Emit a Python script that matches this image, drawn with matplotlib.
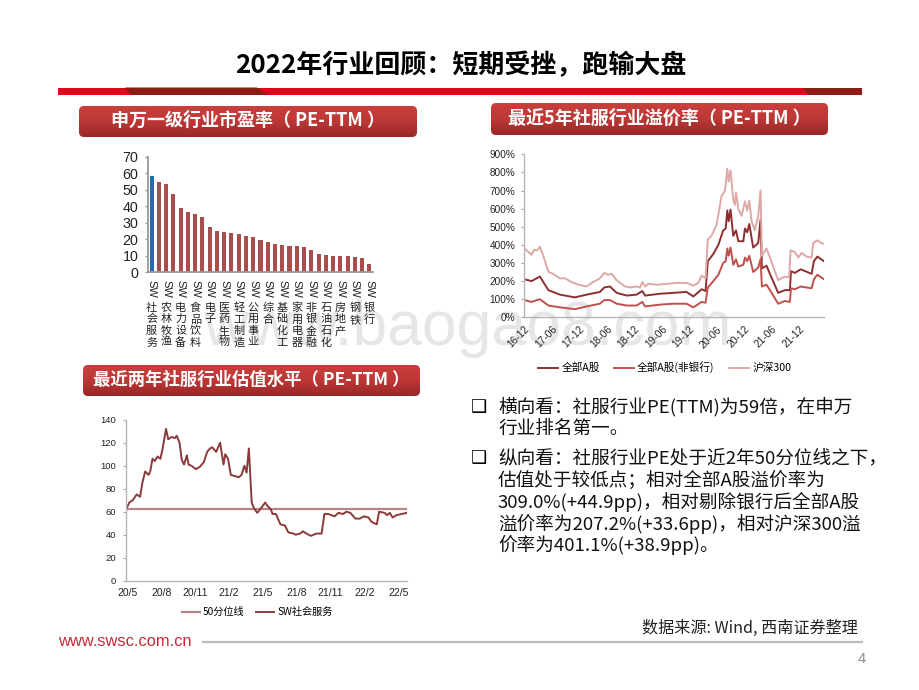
import numpy as np
import matplotlib
matplotlib.use('Agg')
import matplotlib.pyplot as plt
from matplotlib.patches import FancyBboxPatch, Polygon, Rectangle

CJK = ['Noto Sans CJK SC', 'DejaVu Sans']
LAT = ['Liberation Sans', 'Noto Sans CJK SC', 'DejaVu Sans']
plt.rcParams['font.family'] = LAT

# ---------- data ----------
bar_values = [58.5, 55, 53.5, 47.5, 39, 36.5, 35.5, 33.5, 27.5, 25, 24.5, 23.5, 23, 22, 21.5, 19.5,
              18.5, 17, 16.5, 16, 16, 15, 13.5, 11, 10.5, 10, 9.5, 9.5, 9, 8.5, 5]
bar_labels = ['社会服务', '农林牧渔', '电力设备', '食品饮料', '电子', '医药生物', '轻工制造', '公用事业',
              '综合', '基础化工', '家用电器', '非银金融', '石油石化', '房地产', '钢铁', '银行']

prem_x = [0, 1.6, 3.4, 5.25, 7.8, 11.05, 13.6, 16.5, 17.45, 18.7, 20.15, 22.35, 24.5, 25.75, 26.35, 29.6,
          32.5, 35.4, 36.9, 38.7, 39.55, 40.05, 41.25, 42.35, 43.4, 43.95, 44.3, 44.6, 45, 45.6, 46.2, 46.7,
          47.8, 48.15, 48.65, 49.1, 49.95, 51.05, 51.55, 51.85, 52.85, 53.6, 55.4, 56.85, 57.95, 58.2, 59.05,
          60.3, 62.7, 63.2, 63.95, 65.4]
all_a = [210, 200, 225, 150, 125, 110, 125, 140, 165, 170, 135, 120, 125, 145, 120, 130,
         135, 140, 115, 155, 145, 310, 350, 400, 480, 490, 590, 530, 595, 450, 480, 420,
         420, 490, 470, 515, 385, 410, 540, 270, 285, 240, 135, 150, 150, 255, 245,
         265, 240, 310, 335, 310]
all_a_exbank = [95, 85, 100, 65, 55, 45, 60, 75, 95, 95, 75, 65, 65, 85, 60, 70,
                75, 75, 55, 85, 80, 165, 200, 235, 300, 310, 380, 340, 385, 290, 320, 280,
                290, 330, 310, 340, 250, 275, 320, 170, 180, 150, 75, 90, 85, 160, 155,
                170, 160, 210, 235, 210]
hs300_x = [0, .9, 1.6, 2.1, 2.85, 3.4, 4.15, 4.75, 5.3, 6.3, 7.8, 8.9, 10.3, 11.8, 13.6, 14.7, 16.5, 17.45,
           18.3, 19.05, 20.15, 22, 23.05, 24.5, 25.25, 25.75, 26.35, 27.05, 28.9, 31.05, 33.25, 35.4, 36.9,
           37.95, 38.7, 39.55, 40.05, 40.85, 41.95, 43.05, 43.8, 44.3, 44.6, 45, 45.6, 45.95, 46.2, 46.7, 47.4,
           48.15, 48.65, 49.1, 49.6, 50.3, 51.05, 51.55, 51.85, 52.85, 53.6, 54.3, 55.4, 56.85, 57.8, 58.1,
           59.05, 59.8, 60.5, 61.6, 62.7, 63.05, 63.95, 64.85, 65.4]
hs300 = [380, 360, 345, 372, 370, 390, 340, 290, 250, 240, 215, 215, 195, 180, 170, 190, 215, 245,
         235, 240, 205, 170, 165, 170, 165, 195, 170, 185, 180, 185, 190, 190, 175,
         190, 230, 215, 430, 450, 510, 670, 700, 820, 750, 810, 650, 620, 690, 600, 560,
         640, 590, 645, 530, 480, 560, 700, 340, 380, 330, 280, 205, 225, 220, 370,
         360, 330, 355, 335, 330, 410, 425, 410, 405]
prem_ticks = ['16-12', '17-06', '17-12', '18-06', '18-12', '19-06', '19-12', '20-06', '20-12', '21-06', '21-12']

val_x = [0, .3, .6, .95, 1.25, 1.45, 1.7, 2, 2.15, 2.35, 2.55, 2.8, 3.05, 3.25, 3.55, 3.75, 4.05, 4.35, 4.5,
         4.75, 4.95, 5.15, 5.4, 5.55, 5.8, 6.2, 6.55, 6.9, 7.2, 7.45, 7.65, 8, 8.35, 8.65, 8.8, 9.05, 9.3, 9.65,
         10, 10.25, 10.5, 10.7, 10.9, 11.15, 11.35, 11.65, 12.05, 12.35, 12.55, 12.85, 13, 13.3, 13.7, 14.1,
         14.4, 14.85, 15.05, 15.45, 15.7, 16, 16.4, 16.9, 17.35, 17.6, 17.95, 18.5, 18.85, 19.25, 19.55, 19.9,
         20.35, 20.75, 21.1, 21.5, 21.8, 22.25, 22.45, 22.95, 23.15, 23.4, 23.65, 24, 24.45, 24.9]
val_pe = [62, 68, 70, 75, 73, 85, 95, 92, 95, 106, 104, 108, 106, 115, 132, 123, 125, 124, 126,
          120, 105, 101, 109, 101, 100, 97, 99, 103, 112, 115, 116, 112, 120, 101, 110, 106, 92, 91,
          90, 92, 100, 94, 115, 68, 63, 59, 64, 68, 65, 62, 58, 58, 49, 48,
          42, 41, 40, 41, 43, 41, 39, 41, 41, 58, 58, 56, 59, 58, 60, 59,
          54, 54, 56, 55, 51, 49, 60, 59, 57, 59, 55, 57, 58, 59]
val_median = 62.5
val_ticks = ['20/5', '20/8', '20/11', '21/2', '21/5', '21/8', '21/11', '22/2', '22/5']

# full-width punctuation
COLON, COMMA, SEMI, LP, RP, STOP = '\uff1a', '\uff0c', '\uff1b', '\uff08', '\uff09', '\u3002'
PE_TAG = f'{LP} PE-TTM {RP}'

W, H = 920, 690
fig = plt.figure(figsize=(W / 100, H / 100), dpi=100, facecolor='white')


def axes_px(x0, y0, x1, y1):
    """Axes from pixel box (top-left origin)."""
    a = fig.add_axes([x0 / W, 1 - y1 / H, (x1 - x0) / W, (y1 - y0) / H])
    a.patch.set_alpha(0)
    return a


# ---------- slide furniture ----------
bg = fig.add_axes([0, 0, 1, 1], zorder=-5)
bg.set_axis_off()

bg.text(203, 345, 'www.baogao8.com', fontsize=45, color='#E6E6E6', family=LAT, ha='left', va='baseline')
bg.text(461, 66, f'2022年行业回顾{COLON}短期受挫{COMMA}跑输大盘', fontsize=18.7, fontweight='bold', color='black',
        family=CJK, ha='center', va='center')

bg.add_patch(Rectangle((58, 87.5), 804, 7.5, fc='#E2051B', ec='none'))
bg.add_patch(Polygon([(125, 87.5), (257, 87.5), (268, 95), (132, 95)], fc='#8E1A14', ec='none'))
bg.add_patch(Polygon([(803, 87.5), (862, 87.5), (862, 95), (809, 95)], fc='#8E1A14', ec='none'))

grad = np.linspace(0, 1, 64)[:, None]
cmap = matplotlib.colors.LinearSegmentedColormap.from_list('b', ['#C93F3C', '#BC3836', '#992727'])
buttons = [((79, 106, 417, 137), '申万一级行业市盈率' + PE_TAG, 13),
           ((491, 103, 828, 135), '最近5年社服行业溢价率' + PE_TAG, 13),
           ((83, 365, 420, 396), '最近两年社服行业估值水平' + PE_TAG, 12.5)]
for (x0, y0, x1, y1), label, fs in buttons:
    bg.add_patch(FancyBboxPatch((x0 + 3, y0 + 5), x1 - x0 - 6, y1 - y0 - 6, boxstyle='round,pad=0,rounding_size=4',
                                fc='#B5B5B5', ec='none', alpha=.7))
    box = FancyBboxPatch((x0 + 2, y0 + 2), x1 - x0 - 4, y1 - y0 - 4, boxstyle='round,pad=2,rounding_size=5',
                         fc='none', ec='none')
    bg.add_patch(box)
    im = bg.imshow(grad, cmap=cmap, extent=(x0, x1, y1, y0), aspect='auto', zorder=2)
    im.set_clip_path(box)
    bg.text((x0 + x1) / 2, (y0 + y1) / 2 - 1, label, color='white', fontsize=fs, fontweight='bold',
            family=CJK, ha='center', va='center', zorder=3)

bullets = [(407, '❑'), (458, '❑')]
for y, b in bullets:
    bg.text(471, y, b, fontsize=13, fontweight='bold', family=['DejaVu Sans'], ha='left', va='center', color='black')
body_lines = [(407, f'横向看{COLON}社服行业PE(TTM)为59倍{COMMA}在申万', 13.4),
              (429, f'行业排名第一{STOP}', 13.4),
              (458, f'纵向看{COLON}社服行业PE处于近2年50分位线之下{COMMA}', 13.4),
              (480, f'估值处于较低点{SEMI}相对全部A股溢价率为', 13.4),
              (502, f'309.0%(+44.9pp){COMMA}相对剔除银行后全部A股', 13.4),
              (524, f'溢价率为207.2%(+33.6pp){COMMA}相对沪深300溢', 13.4),
              (545, f'价率为401.1%(+38.9pp){STOP}', 13.4)]
for y, s, fs in body_lines:
    bg.text(498, y, s, fontsize=fs, family=CJK, ha='left', va='center', color='#111111')

bg.text(858, 628, '数据来源: Wind, 西南证券整理', fontsize=11.6, family=CJK, ha='right', va='center', color='#222222')
bg.text(58, 642, 'www.swsc.com.cn', fontsize=11.9, family=LAT, ha='left', va='center', color='#C42B36')
bg.plot([203, 862], [642, 642], color='#BDBDBD', lw=1.6)
bg.text(866, 659, '4', fontsize=10.5, family=LAT, ha='right', va='center', color='#8C8C8C')
bg.set_xlim(0, W)
bg.set_ylim(H, 0)

# ---------- bar chart ----------
ax1 = axes_px(148, 157, 373, 272)
colors = ['#1F6FAE'] + ['#A94D4D'] * (len(bar_values) - 1)
ax1.bar(range(len(bar_values)), bar_values, width=.56, color=colors)
ax1.set_xlim(-.5, len(bar_values) - .5)
ax1.set_ylim(0, 70)
ax1.set_yticks(range(0, 71, 10))
ax1.set_xticks([])
ax1.tick_params(axis='y', length=2.5, width=1, color='#999999', labelsize=10.3, labelcolor='#222222', pad=4.5)
for s in ('top', 'right'):
    ax1.spines[s].set_visible(False)
for s in ('left', 'bottom'):
    ax1.spines[s].set_color('#9A9A9A')
    ax1.spines[s].set_linewidth(1.3)
for i, label in enumerate(bar_labels):
    ax1.annotate('SW', xy=(i * 2, 0), xycoords=('data', 'axes fraction'), xytext=(0, -6),
                 textcoords='offset points', rotation=-90, ha='center', va='top', fontsize=8,
                 family=LAT, color='#222222')
    ax1.annotate('\n'.join(label), xy=(i * 2, 0), xycoords=('data', 'axes fraction'), xytext=(0, -22),
                 textcoords='offset points', ha='center', va='top', fontsize=8, family=CJK,
                 color='#222222', linespacing=1.2)

# ---------- premium chart ----------
ax2 = axes_px(524.3, 154.3, 824, 317.3)
l1, = ax2.plot(prem_x, all_a, color='#8E2F2F', lw=1.4, label='全部A股')
l2, = ax2.plot(prem_x, all_a_exbank, color='#C0504D', lw=1.4, label='全部A股(非银行)')
l3, = ax2.plot(hs300_x, hs300, color='#DDA8A6', lw=1.4, label='沪深300')
ax2.set_xlim(0, 65.4)
ax2.set_ylim(0, 900)
ax2.set_yticks(range(0, 901, 100))
ax2.set_yticklabels([f'{v}%' for v in range(0, 901, 100)])
ax2.set_xticks(range(0, 61, 6))
ax2.set_xticklabels(prem_ticks, rotation=45, ha='right', rotation_mode='anchor')
ax2.tick_params(axis='y', length=2, width=.8, color='#AAAAAA', labelsize=7.2, labelcolor='#222222', pad=4.5)
ax2.tick_params(axis='x', length=0, labelsize=7.4, labelcolor='#222222', pad=5)
for s in ('top', 'right'):
    ax2.spines[s].set_visible(False)
for s in ('left', 'bottom'):
    ax2.spines[s].set_color('#B5B5B5')
    ax2.spines[s].set_linewidth(1)
ax2.legend(handles=[l1, l2, l3], loc='center', bbox_to_anchor=(664.5 / W, 1 - 367.5 / H),
           bbox_transform=fig.transFigure, ncol=3, frameon=False, prop={'family': CJK, 'size': 7.7},
           handlelength=1.9, handletextpad=.3, columnspacing=1.3, borderpad=0)

# ---------- valuation chart ----------
ax3 = axes_px(126, 419.7, 406.7, 580.7)
m1 = ax3.axhline(val_median, color='#B98383', lw=1.6, label='50分位线')
m2, = ax3.plot(val_x, val_pe, color='#8B3A3A', lw=1.4, label='SW社会服务')
ax3.set_xlim(0, 24.9)
ax3.set_ylim(0, 140)
ax3.set_yticks(range(0, 141, 20))
ax3.set_xticks(np.arange(len(val_ticks)) * 3 + .15)
ax3.set_xticklabels(val_ticks)
ax3.tick_params(axis='y', length=2, width=.8, color='#AAAAAA', labelsize=6.8, labelcolor='#222222', pad=5)
ax3.tick_params(axis='x', length=0, labelsize=7.5, labelcolor='#222222', pad=5)
for s in ('top', 'right'):
    ax3.spines[s].set_visible(False)
for s in ('left', 'bottom'):
    ax3.spines[s].set_color('#B5B5B5')
    ax3.spines[s].set_linewidth(1)
ax3.legend(handles=[m1, m2], loc='center', bbox_to_anchor=(257 / W, 1 - 612 / H),
           bbox_transform=fig.transFigure, ncol=2, frameon=False, prop={'family': CJK, 'size': 7.3},
           handlelength=1.8, handletextpad=.3, columnspacing=1.1, borderpad=0)

fig.savefig('out.png', dpi=100)
